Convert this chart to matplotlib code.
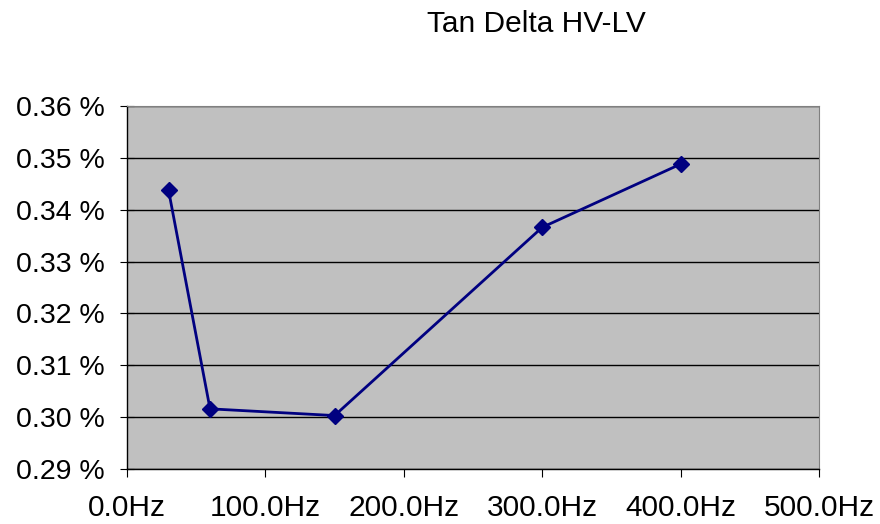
import matplotlib.pyplot as plt
from matplotlib.ticker import FuncFormatter, MultipleLocator

plt.rcParams['font.family'] = ['Liberation Sans', 'DejaVu Sans']

# Measurement frequencies (Hz) and tan delta (%)
freq_hz = [30, 60, 150, 300, 400]
tan_delta = [0.3438, 0.3016, 0.3003, 0.3366, 0.3488]

fig = plt.figure(figsize=(8.8, 5.24), dpi=100)
ax = fig.add_axes([0.1443, 0.105, 0.7864, 0.6927])
ax.set_facecolor('#c0c0c0')

ax.plot(freq_hz, tan_delta, color='#000080', linewidth=2.0,
        marker='D', markersize=8, zorder=3)

ax.set_xlim(0, 500)
ax.set_ylim(0.29, 0.36)
ax.xaxis.set_major_locator(MultipleLocator(100))
ax.yaxis.set_major_locator(MultipleLocator(0.01))
ax.xaxis.set_major_formatter(FuncFormatter(lambda v, p: f"{v:.1f}Hz"))
ax.yaxis.set_major_formatter(FuncFormatter(lambda v, p: f"{v:.2f} %"))

ax.grid(axis='y', color='black', linewidth=1.0)
ax.set_axisbelow(True)

for side in ['left', 'bottom']:
    ax.spines[side].set_color('black')
    ax.spines[side].set_linewidth(1.0)
for side in ['top', 'right']:
    ax.spines[side].set_color('#808080')
    ax.spines[side].set_linewidth(0.8)

ax.tick_params(axis='x', direction='out', length=6, width=0.8,
               labelsize=21.5, pad=12, colors='black')
ax.tick_params(axis='y', direction='inout', length=10, width=0.8,
               labelsize=20.5, pad=11, colors='black')

fig.text(0.61, 0.955, 'Tan Delta HV-LV', ha='center', va='center',
         fontsize=21.5)

fig.savefig('out.png', dpi=100)
